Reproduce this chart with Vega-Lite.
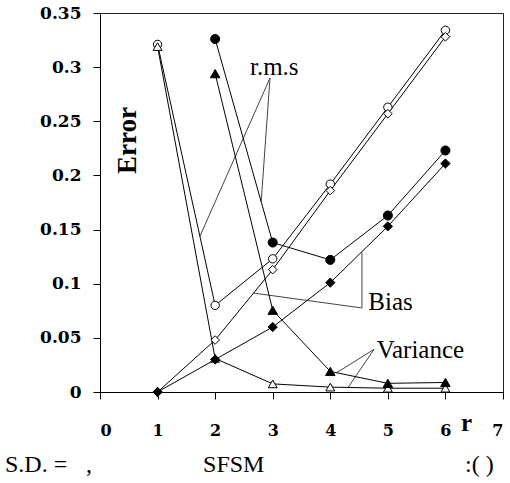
{
  "$schema": "https://vega.github.io/schema/vega-lite/v6.json",
  "width": 403,
  "height": 379,
  "autosize": {"type": "none"},
  "padding": {"left": 100, "top": 13, "right": 7, "bottom": 91},
  "background": "white",
  "config": {
    "view": {"stroke": "#222", "strokeWidth": 1},
    "axis": {
      "grid": false,
      "domainColor": "#000",
      "domainWidth": 1,
      "tickColor": "#000",
      "tickWidth": 1,
      "tickSize": 7,
      "labelFont": "DejaVu Serif, Liberation Serif, serif",
      "labelFontWeight": "bold",
      "labelColor": "#000"
    }
  },
  "datasets": {
    "series": [
      {"r": 1, "err": 0.321, "series": "rms-1"},
      {"r": 2, "err": 0.080, "series": "rms-1"},
      {"r": 3, "err": 0.123, "series": "rms-1"},
      {"r": 4, "err": 0.192, "series": "rms-1"},
      {"r": 5, "err": 0.263, "series": "rms-1"},
      {"r": 6, "err": 0.334, "series": "rms-1"},
      {"r": 1, "err": 0.000, "series": "bias-1"},
      {"r": 2, "err": 0.048, "series": "bias-1"},
      {"r": 3, "err": 0.113, "series": "bias-1"},
      {"r": 4, "err": 0.186, "series": "bias-1"},
      {"r": 5, "err": 0.257, "series": "bias-1"},
      {"r": 6, "err": 0.328, "series": "bias-1"},
      {"r": 1, "err": 0.319, "series": "variance-1"},
      {"r": 2, "err": 0.031, "series": "variance-1"},
      {"r": 3, "err": 0.0075, "series": "variance-1"},
      {"r": 4, "err": 0.0045, "series": "variance-1"},
      {"r": 5, "err": 0.0035, "series": "variance-1"},
      {"r": 6, "err": 0.0035, "series": "variance-1"},
      {"r": 2, "err": 0.326, "series": "rms-2"},
      {"r": 3, "err": 0.138, "series": "rms-2"},
      {"r": 4, "err": 0.122, "series": "rms-2"},
      {"r": 5, "err": 0.163, "series": "rms-2"},
      {"r": 6, "err": 0.223, "series": "rms-2"},
      {"r": 1, "err": 0.000, "series": "bias-2"},
      {"r": 2, "err": 0.030, "series": "bias-2"},
      {"r": 3, "err": 0.060, "series": "bias-2"},
      {"r": 4, "err": 0.101, "series": "bias-2"},
      {"r": 5, "err": 0.153, "series": "bias-2"},
      {"r": 6, "err": 0.211, "series": "bias-2"},
      {"r": 2, "err": 0.294, "series": "variance-2"},
      {"r": 3, "err": 0.0755, "series": "variance-2"},
      {"r": 4, "err": 0.019, "series": "variance-2"},
      {"r": 5, "err": 0.008, "series": "variance-2"},
      {"r": 6, "err": 0.0088, "series": "variance-2"}
    ],
    "leaders": [
      {"x": 2.953, "y": 0.290, "x2": 1.737, "y2": 0.144},
      {"x": 2.953, "y": 0.290, "x2": 2.80, "y2": 0.176},
      {"x": 4.55, "y": 0.0776, "x2": 4.55, "y2": 0.129},
      {"x": 4.55, "y": 0.0776, "x2": 2.66, "y2": 0.0914},
      {"x": 4.76, "y": 0.0394, "x2": 4.11, "y2": 0.0178},
      {"x": 4.76, "y": 0.0394, "x2": 4.31, "y2": 0.0042}
    ],
    "notes": [
      {"x": 2.605, "y": 0.2927, "label": "r.m.s"},
      {"x": 4.66, "y": 0.0757, "label": "Bias"},
      {"x": 4.806, "y": 0.0317, "label": "Variance"}
    ],
    "caption": [
      {"x": -1.65, "y": -0.0739, "label": "S.D. ="},
      {"x": -0.245, "y": -0.0739, "label": ","},
      {"x": 1.79, "y": -0.0739, "label": "SFSM"},
      {"x": 6.34, "y": -0.0739, "label": ":( )"}
    ]
  },
  "layer": [
    {
      "data": {"name": "leaders"},
      "mark": {"type": "rule", "color": "#444", "strokeWidth": 1},
      "encoding": {
        "x": {"field": "x", "type": "quantitative", "scale": {"domain": [0, 7], "nice": false}},
        "y": {"field": "y", "type": "quantitative", "scale": {"domain": [0, 0.35], "nice": false}},
        "x2": {"field": "x2"},
        "y2": {"field": "y2"}
      }
    },
    {
      "data": {"name": "series"},
      "mark": {"type": "line", "color": "#000", "strokeWidth": 1},
      "encoding": {
        "x": {
          "field": "r", "type": "quantitative",
          "scale": {"domain": [0, 7], "nice": false},
          "axis": {
            "values": [0, 1, 2, 3, 4, 5, 6, 7],
            "format": "d",
            "labelFontSize": 16,
            "labelPadding": 23,
            "title": "r",
            "titleFont": "Liberation Serif, Times New Roman, serif",
            "titleFontSize": 25,
            "titleFontWeight": "bold",
            "titleColor": "#000",
            "titleX": 366,
            "titleY": 38,
            "titleAlign": "center",
            "titleBaseline": "alphabetic"
          }
        },
        "y": {
          "field": "err", "type": "quantitative",
          "scale": {"domain": [0, 0.35], "nice": false},
          "axis": {
            "values": [0, 0.05, 0.1, 0.15, 0.2, 0.25, 0.3, 0.35],
            "format": "~g",
            "labelFontSize": 17,
            "labelPadding": 12,
            "title": "Error",
            "titleFont": "Liberation Serif, Times New Roman, serif",
            "titleFontSize": 27,
            "titleFontWeight": "bold",
            "titleColor": "#000",
            "titleAngle": 270,
            "titleX": 35,
            "titleY": 127,
            "titleAlign": "center",
            "titleBaseline": "alphabetic"
          }
        },
        "detail": {"field": "series"},
        "order": {"field": "r"}
      }
    },
    {
      "data": {"name": "series"},
      "mark": {"type": "point", "filled": true, "stroke": "#000", "strokeWidth": 1, "opacity": 1},
      "encoding": {
        "x": {"field": "r", "type": "quantitative"},
        "y": {"field": "err", "type": "quantitative"},
        "shape": {
          "field": "series", "type": "nominal", "legend": null,
          "scale": {
            "domain": ["rms-1", "bias-1", "variance-1", "rms-2", "bias-2", "variance-2"],
            "range": ["circle", "diamond", "triangle-up", "circle", "diamond", "triangle-up"]
          }
        },
        "fill": {
          "field": "series", "type": "nominal", "legend": null,
          "scale": {
            "domain": ["rms-1", "bias-1", "variance-1", "rms-2", "bias-2", "variance-2"],
            "range": ["#fff", "#fff", "#fff", "#000", "#000", "#000"]
          }
        },
        "size": {
          "field": "series", "type": "nominal", "legend": null,
          "scale": {
            "domain": ["rms-1", "bias-1", "variance-1", "rms-2", "bias-2", "variance-2"],
            "range": [70, 90, 95, 45, 110, 95]
          }
        }
      }
    },
    {
      "data": {"name": "notes"},
      "mark": {"type": "text", "font": "Liberation Serif, Times New Roman, serif", "fontSize": 25, "align": "left", "baseline": "alphabetic", "color": "#000"},
      "encoding": {
        "x": {"field": "x", "type": "quantitative"},
        "y": {"field": "y", "type": "quantitative"},
        "text": {"field": "label"}
      }
    },
    {
      "data": {"name": "caption"},
      "mark": {"type": "text", "font": "Liberation Serif, Times New Roman, serif", "fontSize": 24, "align": "left", "baseline": "alphabetic", "color": "#000"},
      "encoding": {
        "x": {"field": "x", "type": "quantitative"},
        "y": {"field": "y", "type": "quantitative"},
        "text": {"field": "label"}
      }
    }
  ]
}
